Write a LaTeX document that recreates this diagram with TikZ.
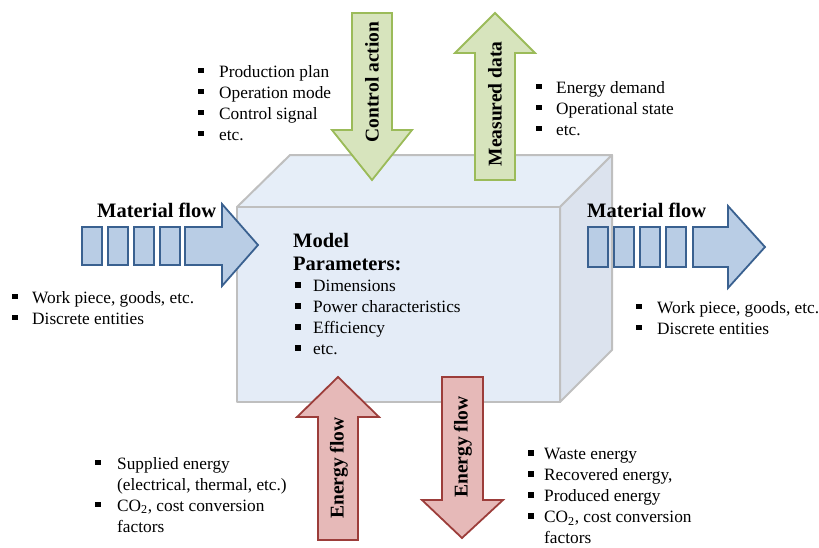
\documentclass[tikz,border=0pt]{standalone}
\usepackage{fontspec}
\setmainfont{Liberation Serif}
\usepackage{xcolor}
\usepackage{tikz}
\usetikzlibrary{positioning}
\definecolor{matfill}{HTML}{B9CDE5}
\definecolor{matline}{HTML}{3A6190}
\definecolor{ctrlfill}{HTML}{D7E4BD}
\definecolor{ctrlline}{HTML}{9BBB59}
\definecolor{enfill}{HTML}{E6B9B8}
\definecolor{enline}{HTML}{9C3D3A}
\definecolor{boxfront}{HTML}{E4ECF7}
\definecolor{boxtop}{HTML}{E6EEF8}
\definecolor{boxside}{HTML}{DCE3EE}
\definecolor{boxline}{HTML}{BFBFBF}
\newcommand{\bul}[1][20pt]{\makebox[#1][l]{\raisebox{4pt}{\rule{5.5pt}{5.5pt}}}}
\newcommand{\ind}[1][20pt]{\hspace*{#1}}
\tikzset{
  % node options
  listtext/.style={anchor=north west,align=left,inner sep=0pt,font=\fontsize{17.3}{21}\selectfont},
  flowtitle/.style={anchor=base west,inner sep=0pt,font=\bfseries\fontsize{20.5}{23}\selectfont},
  arrowlabel/.style={rotate=90,inner sep=0pt,font=\bfseries\fontsize{19.5}{23}\selectfont},
  % path options
  flowshape/.style={line width=1.8pt,line join=miter},
  matshape/.style={flowshape,fill=matfill,draw=matline},
  ctrlshape/.style={flowshape,fill=ctrlfill,draw=ctrlline},
  enshape/.style={flowshape,fill=enfill,draw=enline},
  face/.style={draw=boxline,line width=2pt,line join=round},
}

\begin{document}
\begin{tikzpicture}[x=1pt,y=-1pt]
  \useasboundingbox (0,0) rectangle (819,547);
  % the machine box
  \coordinate (fa) at (237,207);
  \coordinate (fb) at (560,207);
  \coordinate (fc) at (560,402);
  \coordinate (fd) at (237,402);
  \coordinate (ba) at (290,155);
  \coordinate (bb) at (612,155);
  \coordinate (bc) at (612,350);
  \filldraw[face,fill=boxtop] (fa) -- (ba) -- (bb) -- (fb) -- cycle;
  \filldraw[face,fill=boxside] (fb) -- (bb) -- (bc) -- (fc) -- cycle;
  \filldraw[face,fill=boxfront] (fa) -- (fb) -- (fc) -- (fd) -- cycle;

  % material flow
  \foreach \x in {82,108,134,160} {
    \draw[matshape] (\x,227) rectangle ++(20,38);
  }
  \filldraw[matshape] (185,227) -- (222,227) -- (222,204) -- (258,245)
    -- (222,286) -- (222,265) -- (185,265) -- cycle;
  \foreach \x in {588,614,640,666} {
    \draw[matshape] (\x,227) rectangle ++(20,40);
  }
  \filldraw[matshape] (693,227) -- (728,227) -- (728,206) -- (765,247)
    -- (728,288) -- (728,267) -- (693,267) -- cycle;
  \node[flowtitle] (matinlabel) at (97,217) {Material flow};
  \node[flowtitle] (matoutlabel) at (587,217) {Material flow};

  % control and measurement
  \filldraw[ctrlshape] (352,13) -- (392,13) -- (392,130) -- (412,130)
    -- (372,180) -- (332,130) -- (352,130) -- cycle;
  \filldraw[ctrlshape] (475,180) -- (515,180) -- (515,53) -- (535,53)
    -- (495,13) -- (455,53) -- (475,53) -- cycle;
  \node[arrowlabel] (controllabel) at (372,82) {Control action};
  \node[arrowlabel] (measuredlabel) at (495,104) {Measured data};

  % energy
  \filldraw[enshape] (318,540) -- (358,540) -- (358,417) -- (379,417)
    -- (338,377) -- (297,417) -- (318,417) -- cycle;
  \filldraw[enshape] (442,377) -- (483,377) -- (483,500) -- (503,500)
    -- (462,538) -- (422,500) -- (442,500) -- cycle;
  \node[arrowlabel] (eninlabel) at (339,468) {Energy flow};
  \node[arrowlabel] (enoutlabel) at (463,447) {Energy flow};

  % model parameters
  \node[flowtitle,anchor=north west,align=left] (modeltitle) at (293,233) {Model\\Parameters:};
  \node[listtext] (modellist) at (295,280)
    {\bul[18pt]Dimensions\\ \bul[18pt]Power characteristics\\ \bul[18pt]Efficiency\\ \bul[18pt]etc.};

  % lists
  \node[listtext] (ctrllist) at (198,65)
    {\bul[21pt]Production plan\\ \bul[21pt]Operation mode\\ \bul[21pt]Control signal\\ \bul[21pt]etc.};
  \node[listtext] (measlist) at (536,81)
    {\bul Energy demand\\ \bul Operational state\\ \bul etc.};
  \node[listtext] (matinlist) at (12,291)
    {\bul Work piece, goods, etc.\\ \bul Discrete entities};
  \node[listtext] (matoutlist) at (636,301)
    {\bul[21pt]Work piece, goods, etc.\\ \bul[21pt]Discrete entities};
  \node[listtext] (eninlist) at (95,457)
    {\bul[22pt]Supplied energy\\ \ind[22pt](electrical, thermal, etc.)\\
     \bul[22pt]CO\textsubscript{2}, cost conversion\\ \ind[22pt]factors};
  \node[listtext] (enoutlist) at (528,448)
    {\bul[16pt]Waste energy\\ \bul[16pt]Recovered energy,\\ \bul[16pt]Produced energy\\
     \bul[16pt]CO\textsubscript{2}, cost conversion\\ \ind[16pt]factors};
\end{tikzpicture}
\end{document}
